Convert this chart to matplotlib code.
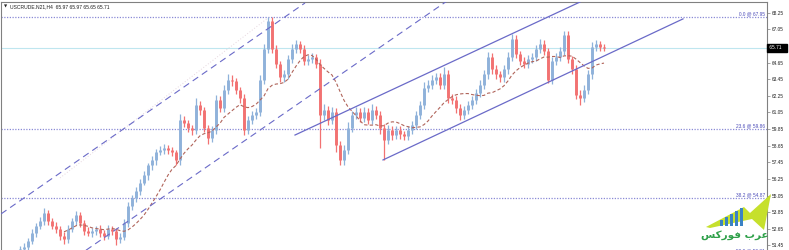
import matplotlib
matplotlib.use('Agg')
import matplotlib.pyplot as plt
import matplotlib.transforms as mtransforms
from matplotlib.patches import Polygon, Rectangle
import numpy as np
import pandas as pd

# ---------------- data ----------------
first_open = 51.05
close = [51.17, 51.31, 51.75, 52.34, 52.85, 53.21, 53.80, 53.21, 52.85, 52.63,
         52.12, 51.90, 52.63, 53.21, 53.65, 53.07, 52.48, 52.34, 52.48, 52.63,
         52.34, 52.12, 52.63, 52.48, 51.90, 52.04, 53.07, 54.31, 54.89, 55.40,
         55.99, 56.50, 57.23, 57.59, 58.17, 58.32, 58.47, 58.32, 58.17, 57.59,
         60.51, 60.29, 59.93, 59.78, 61.61, 61.24, 59.93, 59.20, 59.78, 61.97,
         61.39, 62.70, 63.43, 63.29, 62.70, 62.11, 59.78, 60.51, 60.88, 61.10,
         63.43, 65.62, 67.67, 65.62, 64.53, 63.58, 63.80, 64.89, 65.62, 65.99,
         65.62, 64.75, 64.89, 65.04, 64.53, 60.88, 61.24, 60.51, 61.10, 58.69,
         57.59, 58.32, 59.93, 60.88, 61.10, 60.66, 61.10, 60.51, 61.24, 60.88,
         59.93, 59.05, 59.78, 59.42, 59.78, 59.49, 59.34, 59.78, 60.15, 60.88,
         61.61, 62.85, 63.07, 63.43, 63.58, 63.07, 63.80, 62.11, 61.97, 61.39,
         60.88, 61.24, 61.61, 61.97, 62.48, 63.07, 63.80, 65.04, 64.16, 63.80,
         63.58, 64.16, 65.04, 66.35, 65.26, 64.75, 64.53, 64.89, 65.04, 65.62,
         65.99, 65.48, 63.43, 64.75, 65.04, 65.48, 66.64, 64.89, 64.16, 62.34,
         62.11, 62.70, 63.80, 65.79, 65.99, 65.79, 65.71]
wick_up = [0.2, 0.3, 0.2, 0.3, 0.25, 0.3, 0.35, 0.2, 0.2, 0.3,
           0.2, 0.3, 0.3, 0.25, 0.3, 0.2, 0.2, 0.3, 0.2, 0.25,
           0.3, 0.2, 0.3, 0.2, 0.2, 0.3, 0.25, 0.3, 0.2, 0.3,
           0.25, 0.3, 0.2, 0.3, 0.25, 0.3, 0.3, 0.2, 0.25, 0.2,
           0.4, 0.3, 0.25, 0.2, 0.45, 0.3, 0.2, 0.25, 0.3, 0.35,
           0.3, 0.35, 0.4, 0.3, 0.25, 0.2, 0.3, 0.3, 0.25, 0.3,
           0.35, 0.4, 0.25, 0.3, 0.3, 0.25, 0.3, 0.3, 0.35, 0.3,
           0.25, 0.3, 0.3, 0.3, 0.25, 0.4, 0.45, 0.3, 0.35, 0.3,
           0.3, 0.35, 0.4, 0.3, 0.35, 0.3, 0.35, 0.3, 0.4, 0.3,
           0.3, 0.3, 0.35, 0.3, 0.3, 0.3, 0.25, 0.3, 0.3, 0.3,
           0.3, 0.4, 0.3, 0.3, 0.35, 0.3, 0.55, 0.3, 0.3, 0.25,
           0.3, 0.3, 0.3, 0.3, 0.3, 0.35, 0.3, 0.35, 0.3, 0.3,
           0.25, 0.3, 0.35, 0.35, 0.3, 0.25, 0.3, 0.3, 0.3, 0.3,
           0.35, 0.3, 0.25, 0.3, 0.3, 0.3, 0.3, 0.3, 0.25, 0.3,
           0.3, 0.3, 0.3, 0.35, 0.3, 0.25, 0.2]
wick_dn = [0.2, 0.2, 0.3, 0.2, 0.3, 0.2, 0.3, 0.3, 0.2, 0.3,
           0.3, 0.35, 0.3, 0.2, 0.3, 0.3, 0.3, 0.2, 0.3, 0.3,
           0.3, 0.3, 0.2, 0.3, 0.4, 0.3, 0.2, 0.3, 0.3, 0.3,
           0.3, 0.2, 0.3, 0.3, 0.3, 0.2, 0.3, 0.3, 0.3, 0.35,
           0.3, 0.3, 0.3, 0.35, 0.3, 0.35, 0.3, 0.4, 0.3, 0.3,
           0.3, 0.3, 0.3, 0.3, 0.3, 0.4, 0.35, 0.3, 0.3, 0.3,
           0.3, 0.3, 0.3, 0.3, 0.3, 0.35, 0.3, 0.3, 0.3, 0.3,
           0.3, 0.3, 0.3, 0.3, 0.3, 2.4, 0.4, 0.4, 0.3, 0.5,
           0.35, 0.3, 0.3, 0.3, 0.3, 0.3, 0.3, 0.3, 0.3, 0.3,
           0.4, 1.4, 0.3, 0.35, 0.3, 0.35, 0.3, 0.3, 0.3, 0.3,
           0.3, 0.3, 0.3, 0.3, 0.3, 0.3, 0.3, 0.35, 0.3, 0.35,
           0.4, 0.3, 0.3, 0.3, 0.3, 0.3, 0.3, 0.3, 0.3, 0.3,
           0.3, 0.3, 0.3, 0.3, 0.3, 0.3, 0.3, 0.3, 0.3, 0.3,
           0.3, 0.3, 0.25, 0.3, 0.3, 0.3, 0.3, 0.3, 0.3, 0.3,
           0.5, 0.3, 0.3, 0.3, 0.3, 0.3, 0.25]

price_ticks = [68.25, 67.05, 64.65, 63.45, 62.25, 61.05, 59.85, 58.65,
               57.45, 56.25, 55.05, 53.85, 52.65, 51.45]
price_tick_labels = ["68.25", "67.05", "64.65", "63.45", "62.25", "61.05", "59.85",
                     "58.65", "57.45", "56.25", "55.05", "53.85", "52.65", "51.45"]
fib_levels = [67.95, 59.86, 54.87, 50.81]
fib_names = ["0.0", "23.6", "38.2", "50.0"]
last_price = 65.71
header_text = "USCRUDE.N21,H4  65.97 65.97 65.65 65.71"
logo_text = "\uFEB2\uFEDB\uFEAD\uFEEE\uFED3 \uFE8F\uFEAE\uFECB"  # عرب فوركس (shaped, visual order)

# trend / channel line anchors (bar index, price)
dash_line_1 = ([-4.75, 71.25], [53.72, 68.96])
dash_line_2 = ([16.5, 107.0], [51.10, 69.15])
faint_line = ([10.0, 62.0], [56.32, 67.88])
chan_upper = ([68.75, 140.0], [59.42, 69.03])
chan_lower = ([90.75, 165.75], [57.62, 67.81])
ma_period = 12

# ---------------- figure ----------------
W, H = 789, 250
fig = plt.figure(figsize=(W / 100, H / 100), dpi=100)
fig.patch.set_facecolor('white')
ax = fig.add_axes([1 / W, 0, 766 / W, 248 / H])
ax.set_xlim(-4.75, 186.75)
ax.set_ylim(51.115, 69.03)

c = np.array(close)
n = len(c)
x = np.arange(n)
o = np.r_[first_open, c[:-1]]
hi = np.maximum(o, c) + np.array(wick_up)
lo = np.minimum(o, c) - np.array(wick_dn)
bull = c >= o
BLUE = '#8fb2da'
RED = '#f27272'
cols = [BLUE if b else RED for b in bull]

LINE = '#6a6ac8'
# horizontal levels
for lv, nm in zip(fib_levels, fib_names):
    ax.axhline(lv, color='#8a8ad6', lw=0.9, ls=(0, (1, 1.2)), zorder=1)
    ax.text(186.2, lv + 0.05, f"{nm} @ {lv:.2f}", ha='right', va='bottom',
            fontsize=3.4, color='#4a4ab8', family=['Liberation Sans', 'DejaVu Sans'],
            zorder=5, clip_on=False)
ax.axhline(last_price, color='#bfe6ef', lw=0.8, zorder=1)

# bars
ax.vlines(x, lo, hi, colors=cols, lw=0.9, zorder=2)
ax.vlines(x, np.minimum(o, c), np.maximum(o, c), colors=cols, lw=2.1, zorder=3)

# moving average
ma = pd.Series(c).rolling(ma_period).mean()
ax.plot(x, ma, color='#b0645a', lw=0.8, ls=(0, (3, 2)), zorder=4)

# lines
ax.plot(*dash_line_1, color=LINE, lw=0.8, ls=(0, (6, 4)), zorder=4)
ax.plot(*dash_line_2, color=LINE, lw=0.8, ls=(0, (6, 4)), zorder=4)
ax.plot(*faint_line, color='#e6d6de', lw=0.7, ls=(0, (1, 2)), zorder=1)
ax.plot(*chan_upper, color=LINE, lw=0.9, zorder=4)
ax.plot(*chan_lower, color=LINE, lw=0.9, zorder=4)

# axes styling
ax.set_xticks([])
ax.yaxis.tick_right()
ax.set_yticks(price_ticks)
ax.set_yticklabels(price_tick_labels, family=['Liberation Sans', 'DejaVu Sans'])
ax.tick_params(axis='y', length=2, width=0.5, pad=1.2, labelsize=3.4,
               colors='#7f7f7f', labelcolor='#202020')
for s in ['left', 'top', 'right']:
    ax.spines[s].set_color('#808080')
    ax.spines[s].set_linewidth(0.8)
ax.spines['bottom'].set_visible(False)

# last price box
trans = mtransforms.blended_transform_factory(ax.transAxes, ax.transData)
ax.text(1.0015, last_price, " 65.71   ", transform=trans, ha='left', va='center',
        fontsize=3.4, color='white', family=['Liberation Sans', 'DejaVu Sans'],
        bbox=dict(boxstyle='square,pad=0.25', fc='black', ec='black'), clip_on=False)

# header
fig.text(4 / W, 1 - 7 / H, "\u25BC", fontsize=3.0, va='center', ha='left', color='#202020',
         family=['DejaVu Sans'])
fig.text(10 / W, 1 - 7 / H, header_text, fontsize=3.6, va='center', ha='left',
         color='#202020', family=['Liberation Sans', 'DejaVu Sans'])


# logo
def px(xp, yp):
    return (xp / W, 1 - yp / H)


swoosh = [px(706, 227), px(744, 207), px(750, 213), px(771, 194),
          px(764, 230), px(752, 219), px(710, 228)]
fig.patches.append(Polygon(swoosh, closed=True, transform=fig.transFigure,
                           fc='#c6e02c', ec='none', zorder=10))
for k, (bx, bh) in enumerate([(720, 6), (725, 9), (730, 12), (735, 15), (740, 18)]):
    x0, y0 = px(bx, 226)
    fig.patches.append(Rectangle((x0, y0), 3 / W, bh / H, transform=fig.transFigure,
                                 fc='#3b82c4', ec='none', zorder=11))
fig.text(735 / W, 1 - 235 / H, logo_text, fontsize=7.5, ha='center', va='center',
         color='#2ea049', fontweight='bold', family=['DejaVu Sans'], zorder=12)

fig.savefig('out.png', dpi=100, facecolor='white')
